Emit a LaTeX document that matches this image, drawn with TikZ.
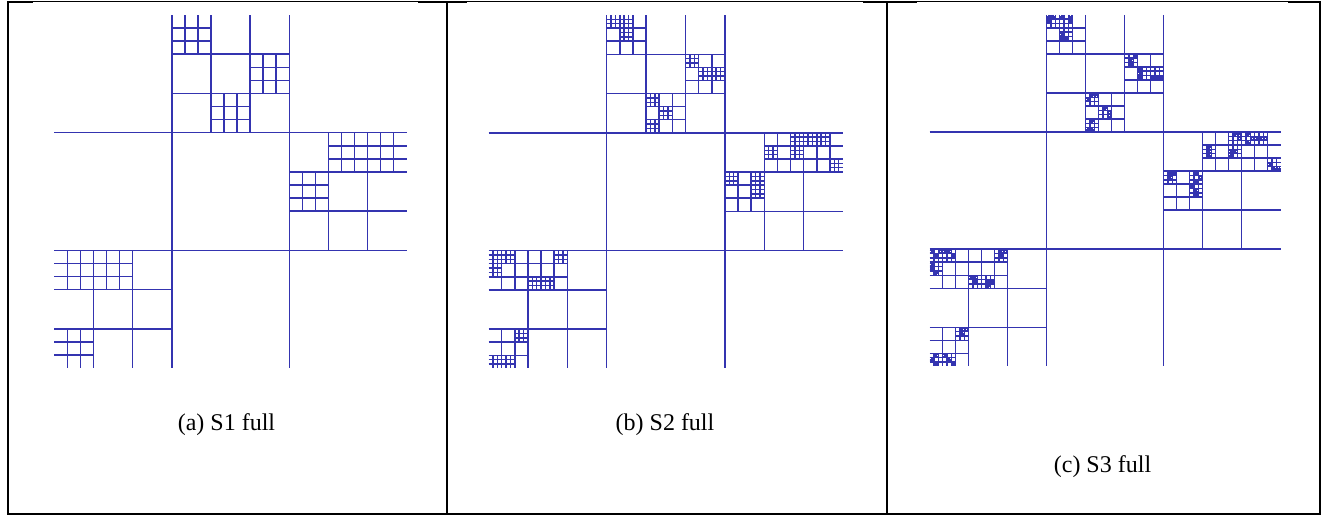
\documentclass[tikz,border=0pt]{standalone}
\usepackage{fontspec}
\setmainfont{Liberation Serif}
\definecolor{qtblue}{RGB}{52,52,176}
\tikzset{
  qt/.style={draw=qtblue,line width=1.5pt},
  qtfine/.style={draw=qtblue,line width=1.1pt},
  frame/.style={draw=black,line width=2pt},
  thinframe/.style={draw=black,line width=0.8pt},
  captext/.style={font=\fontsize{24}{28}\selectfont,inner sep=0pt}
}
% #1 = style, #2 = cell size (in units of L), #3 = list of col/row
\newcommand\gridcells[3][qt]{%
  \foreach \cc/\rr in {#3}{%
    \draw[#1] ({(\cc+1/3)*#2},{\rr*#2}) -- ++(0,#2)
              ({(\cc+2/3)*#2},{\rr*#2}) -- ++(0,#2)
              ({\cc*#2},{(\rr+1/3)*#2}) -- ++(#2,0)
              ({\cc*#2},{(\rr+2/3)*#2}) -- ++(#2,0);
  }}
\newcommand\levelone{\gridcells{3}{0/0}}
\newcommand\leveltwo{\gridcells{1}{1/0,2/1,0/2}}
\newcommand\levelthree{\gridcells{1/3}{3/0,5/1,4/2,7/3,8/3,6/4,0/6,1/6,0/8}}
\newcommand\levelfour{\gridcells{1/9}{9/0,10/0,10/1,15/3,16/4,17/4,12/6,13/7,12/8,
  21/10,23/9,23/10,24/9,25/9,26/11,18/12,20/12,20/13,
  0/18,1/18,0/19,5/18,3/20,4/20,2/24,0/26,1/26}}
\newcommand\levelfive{\gridcells[qtfine]{1/27}{27/0,28/0,27/1,30/0,32/0,32/1,30/4,30/5,31/5,
  47/9,46/10,46/11,48/12,48/13,48/14,51/14,52/14,53/14,
  37/18,38/18,36/19,40/21,41/22,41/23,37/24,36/26,37/26,
  64/30,64/31,64/32,70/27,71/27,71/28,69/31,70/31,69/32,
  73/27,74/28,73/29,75/28,76/28,77/28,78/34,79/35,80/35,
  55/36,56/36,55/37,61/36,62/37,61/38,60/39,61/40,61/41,
  0/54,1/55,2/54,3/54,4/54,5/55,0/57,0/58,1/59,
  16/54,17/54,16/55,9/60,10/60,10/61,13/61,13/62,14/61,
  7/72,8/72,7/73,1/78,0/79,1/80,3/78,4/79,5/80}}
\begin{document}
\begin{tikzpicture}[x=1pt,y=-1pt]
\useasboundingbox (0,0) rectangle (1330,515);
% table frame
\draw[thinframe] (8,1.35) -- (1320,1.35);
\draw[frame,line width=2.2pt] (7,2.1) -- (33,2.1) (418,2.1) -- (467,2.1)
  (863,2.1) -- (917,2.1) (1288,2.1) -- (1320.5,2.1);
\draw[frame] (8,1) -- (8,513.5) -- (1319.5,513.5) -- (1319.5,1);
\draw[frame] (446.5,1) -- (446.5,513.5);
\draw[frame] (886.5,1) -- (886.5,513.5);
% panel (a)
\begin{scope}[shift={(54.3,15)},x=117.5pt,y=-117.7pt]
  \levelone \leveltwo \levelthree
\end{scope}
% panel (b)
\begin{scope}[shift={(488.5,15)},x=118.2pt,y=-117.8pt]
  \levelone \leveltwo \levelthree \levelfour
\end{scope}
% panel (c)
\begin{scope}[shift={(929.6,14.8)},x=117.0pt,y=-117.2pt]
  \levelone \leveltwo \levelthree \levelfour \levelfive
\end{scope}
% captions
\node[captext] (capa) at (226.5,425) {(a) S1 full};
\node[captext] (capb) at (665,425) {(b) S2 full};
\node[captext] (capc) at (1102.5,466.5) {(c) S3 full};
\end{tikzpicture}
\end{document}
